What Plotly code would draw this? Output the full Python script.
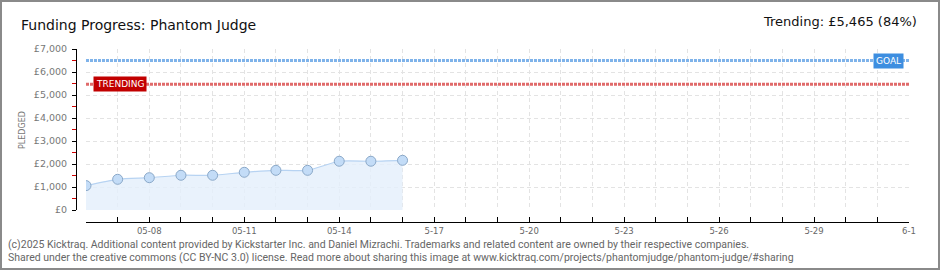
import plotly.graph_objects as go

# ---- data ----
dates = ["2025-05-06", "2025-05-07", "2025-05-08", "2025-05-09", "2025-05-10", "2025-05-11",
         "2025-05-12", "2025-05-13", "2025-05-14", "2025-05-15", "2025-05-16"]
pledged = [1060, 1335, 1405, 1510, 1510, 1640, 1725, 1725, 2120, 2120, 2160]
goal = 6500
trending = 5465
trending_pct = 84

axis_days = ["2025-05-%02d" % d for d in range(6, 32)] + ["2025-06-01"]
tick_labels = ["", "", "05-08", "", "", "05-11", "", "", "05-14", "", "", "5-17", "", "",
               "5-20", "", "", "5-23", "", "", "5-26", "", "", "5-29", "", "", "6-1"]
y_major = [0, 1000, 2000, 3000, 4000, 5000, 6000, 7000]
y_labels = ["£0", "£1,000", "£2,000", "£3,000", "£4,000", "£5,000", "£6,000", "£7,000"]
y_minor = [500, 1500, 2500, 3500, 4500, 5500, 6500]

W, H = 940, 270
ML, MR, MT, MB = 76, 31, 49, 48
PW, PH = W - ML - MR, H - MT - MB


def px_x(x):
    return (x - ML) / PW


def px_y(y):
    return (H - MB - y) / PH


fig = go.Figure()
fig.add_trace(go.Scatter(
    x=dates, y=pledged, mode="lines+markers", fill="tozeroy",
    fillcolor="rgba(228,239,251,0.8)",
    line=dict(color="#b7d3f2", width=1.2, shape="spline", smoothing=0.6),
    marker=dict(size=10, color="#c3dcf7", line=dict(color="#8aa8c8", width=1)),
    hoverinfo="skip", showlegend=False,
))

shapes = [
    dict(type="line", xref="x", yref="y", x0=axis_days[0], x1=axis_days[-1], y0=goal, y1=goal,
         line=dict(color="#7fb3ea", width=3, dash="3px,1px")),
    dict(type="line", xref="x", yref="y", x0=axis_days[0], x1=axis_days[-1], y0=trending, y1=trending,
         line=dict(color="#e06a6a", width=3, dash="3px,1px")),
    dict(type="rect", xref="paper", yref="paper",
         x0=px_x(1), x1=px_x(W - 1), y0=px_y(H - 1), y1=px_y(1),
         line=dict(color="#8a8a8a", width=2)),
]

annotations = [
    dict(text="Funding Progress: Phantom Judge", xref="paper", yref="paper",
         x=px_x(19), y=px_y(25), xanchor="left", yanchor="middle", showarrow=False,
         font=dict(family="DejaVu Sans", size=14, color="#111")),
    dict(text="Trending: £{:,} ({}%)".format(trending, trending_pct), xref="paper", yref="paper",
         x=px_x(919), y=px_y(22), xanchor="right", yanchor="middle", showarrow=False,
         font=dict(family="DejaVu Sans", size=13, color="#111")),
    dict(text="TRENDING", xref="paper", yref="y", x=px_x(120), y=trending,
         xanchor="center", yanchor="middle", showarrow=False, bgcolor="#c20000",
         borderpad=2, font=dict(family="DejaVu Sans", size=9, color="white")),
    dict(text="GOAL", xref="paper", yref="y", x=px_x(888), y=goal,
         xanchor="center", yanchor="middle", showarrow=False, bgcolor="#3d8ee0",
         borderpad=2, font=dict(family="DejaVu Sans", size=9, color="white")),
    dict(text="PLEDGED", xref="paper", yref="paper", x=px_x(22), y=px_y(130),
         textangle=-90, showarrow=False, xanchor="center", yanchor="middle",
         font=dict(family="DejaVu Sans", size=8, color="#777")),
    dict(text="(c)2025 Kicktraq. Additional content provided by Kickstarter Inc. and Daniel Mizrachi. "
              "Trademarks and related content are owned by their respective companies.",
         xref="paper", yref="paper", x=px_x(6), y=px_y(244), xanchor="left", yanchor="middle",
         showarrow=False, font=dict(family="Roboto", size=10.5, color="#666")),
    dict(text="Shared under the creative commons (CC BY-NC 3.0) license. Read more about sharing this "
              "image at www.kicktraq.com/projects/phantomjudge/phantom-judge/#sharing",
         xref="paper", yref="paper", x=px_x(6), y=px_y(257), xanchor="left", yanchor="middle",
         showarrow=False, font=dict(family="Roboto", size=10.5, color="#666")),
]

fig.update_layout(
    width=W, height=H, margin=dict(l=ML, r=MR, t=MT, b=MB),
    paper_bgcolor="white", plot_bgcolor="white",
    shapes=shapes, annotations=annotations, showlegend=False,
    xaxis=dict(
        type="date", range=[axis_days[0], axis_days[-1]],
        domain=[10 / PW, 1], anchor="free", position=0,
        tickmode="array", tickvals=axis_days, ticktext=tick_labels,
        ticks="inside", ticklen=5, tickcolor="#000", tickwidth=1,
        showline=True, linecolor="#000", linewidth=1, ticklabelstandoff=1,
        showgrid=True, gridcolor="#e3e3e3", griddash="4px,3px", gridwidth=1,
        zeroline=False, tickfont=dict(family="DejaVu Sans", size=8.5, color="#666"),
    ),
    yaxis=dict(
        range=[0, 7000], domain=[12 / PH, 1], anchor="free", position=0,
        tickmode="array", tickvals=y_major, ticktext=y_labels,
        ticks="outside", ticklen=4, tickcolor="#000", tickwidth=1, ticklabelstandoff=3,
        showline=True, linecolor="#000", linewidth=1,
        showgrid=True, gridcolor="#e3e3e3", griddash="4px,3px", gridwidth=1,
        zeroline=False, tickfont=dict(family="DejaVu Sans", size=9.5, color="#777"),
        minor=dict(tickmode="array", tickvals=y_minor, ticks="outside", ticklen=4,
                   tickcolor="#d00000", tickwidth=1, showgrid=False),
    ),
)

fig.write_html("out.html")
